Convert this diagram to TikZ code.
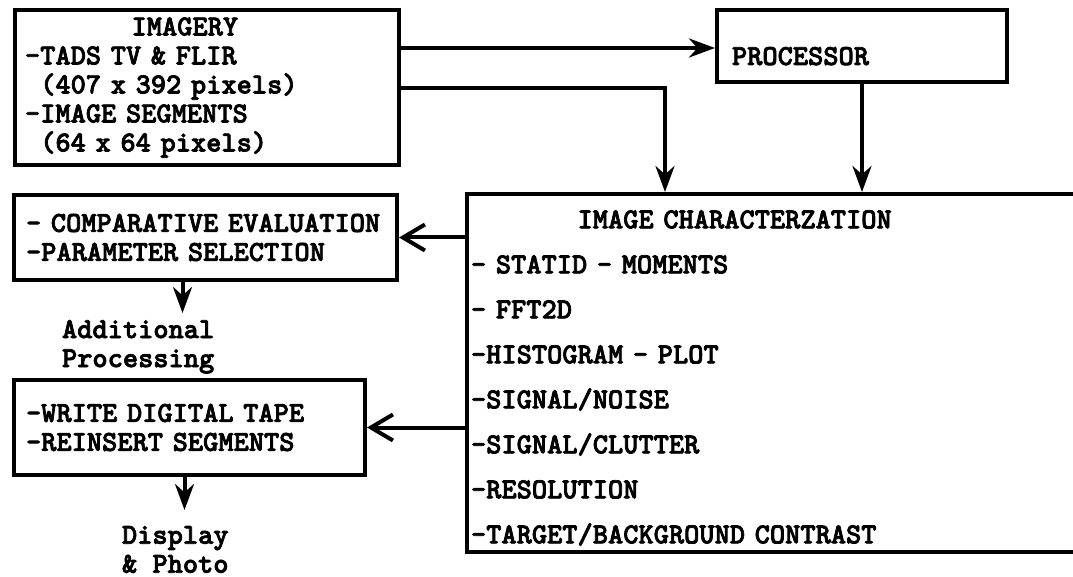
\documentclass[tikz,border=0pt]{standalone}
\usepackage{fontspec}
\newfontfamily\tyface{lmmonolt10-bold.otf}[FakeBold=2.5]
\usepackage{tikz}
\usetikzlibrary{arrows.meta}
\newcommand{\tyfont}{\tyface\fontsize{29}{29}\selectfont}
\newcommand{\tind}[1]{\hspace*{#1\dimexpr0.525em\relax}}

\begin{document}
\begin{tikzpicture}[x=1pt,y=-1pt,>={Stealth[length=26pt,width=19pt]},->,line width=4pt]
  \tikzstyle{box}=[rectangle,draw=black,anchor=north west,align=left,inner ysep=0pt,font=\tyfont]
  \tikzstyle{txt}=[anchor=north west,align=left,inner sep=0pt,font=\tyfont]
  \tikzstyle{barb}=[-{Straight Barb[length=22pt,width=26pt]}]
  \useasboundingbox (0,0) rectangle (1073,577);

  \node[box,text width=364pt,inner xsep=10pt,minimum height=155pt] (imagery) at (13,8)
    {\tind{7}IMAGERY\\-TADS TV \& FLIR\\\tind{1}(407 x 392 pixels)\\-IMAGE SEGMENTS\\\tind{1}(64 x 64 pixels)};
  \node[box,text width=260pt,inner xsep=15pt,minimum height=72pt,text height=38pt,text depth=0pt] (processor) at (715,8)
    {PROCESSOR};
  \node[box,text width=700pt,inner xsep=4pt,minimum height=358pt] (charz) at (465,192)
    {\rule{0pt}{28pt}\tind{7}IMAGE CHARACTERZATION\\[16pt]
     - STATID - MOMENTS\\[16pt]
     - FFT2D\\[16pt]
     -HISTOGRAM - PLOT\\[16pt]
     -SIGNAL/NOISE\\[16pt]
     -SIGNAL/CLUTTER\\[16pt]
     -RESOLUTION\\[16pt]
     -TARGET/BACKGROUND CONTRAST};
  \node[box,text width=359pt,inner xsep=12pt,minimum height=85pt] (compare) at (12,193)
    {- COMPARATIVE EVALUATION\\-PARAMETER SELECTION};
  \node[box,text width=327pt,inner xsep=12pt,minimum height=95pt] (tape) at (12,378)
    {-WRITE DIGITAL TAPE\\-REINSERT SEGMENTS};
  \node[txt] (addl) at (60,318) {Additional\\Processing};
  \node[txt] (disp) at (120,524) {Display\\\& Photo};

  \path (imagery.north east) ++(0,40) coordinate (imA) ++(0,40) coordinate (imB);
  \path (charz.north west) ++(200,0) coordinate (drop);
  \path (compare.south) ++(-23,0) coordinate (cmpOut);
  \path (tape.south) ++(-5,0) coordinate (tapeOut);

  \draw (imB) -| (drop);
  \path (imA) edge (imA -| processor.west)
        (processor.south) edge (processor.south |- charz.north)
        (charz.west |- compare.east) edge [barb] (compare.east)
        (charz.west |- tape.east) edge [barb] (tape.east)
        (cmpOut) edge [shorten >=5pt] (cmpOut |- addl.north)
        (tapeOut) edge [shorten >=14pt] (tapeOut |- disp.north);
\end{tikzpicture}
\end{document}
